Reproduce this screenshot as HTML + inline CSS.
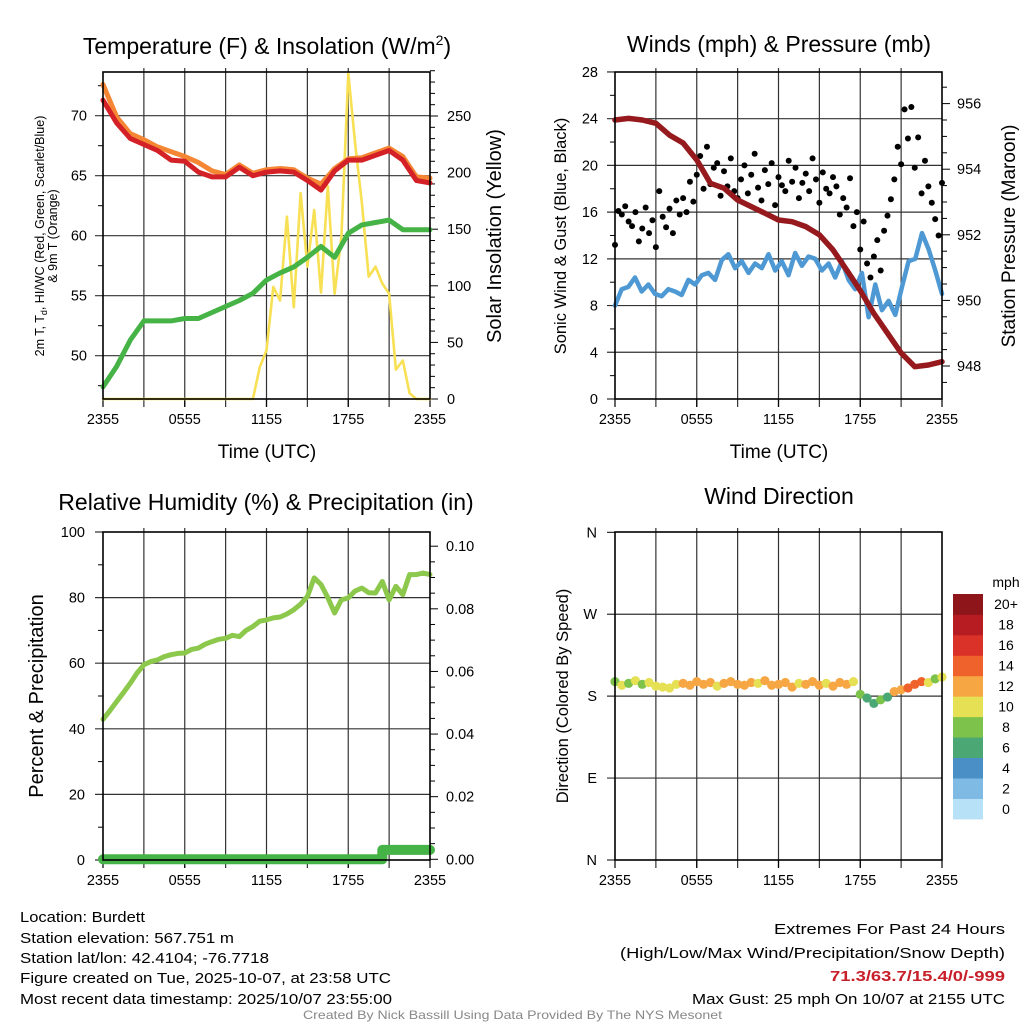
<!DOCTYPE html>
<html><head><meta charset="utf-8"><style>
html,body{margin:0;padding:0;background:#fff;}
svg{display:block;font-family:"Liberation Sans",Arial,sans-serif;}
</style></head><body>
<svg id="fig" xmlns="http://www.w3.org/2000/svg" width="1024" height="1024" viewBox="0 0 1024 1024">
<rect x="0" y="0" width="1024" height="1024" fill="#fff"/>
<g id="layer"></g>
<g font-size="23" text-anchor="middle" fill="#000">
<text x="267" y="54">Temperature (F) &amp; Insolation (W/m<tspan font-size="14" dy="-9">2</tspan><tspan dy="9">)</tspan></text>
<text x="779" y="52">Winds (mph) &amp; Pressure (mb)</text>
<text x="266" y="510">Relative Humidity (%) &amp; Precipitation (in)</text>
<text x="779" y="504">Wind Direction</text>
</g>
<g font-size="19" text-anchor="middle">
<text x="267" y="458">Time (UTC)</text>
<text x="779" y="458">Time (UTC)</text>
<text transform="translate(44,236) rotate(-90)" font-size="12.5">2m T, T<tspan font-size="9" dy="3">d</tspan><tspan dy="-3">, HI/WC (Red, Green, Scarlet/Blue)</tspan></text>
<text transform="translate(57,236) rotate(-90)" font-size="12.5">&amp; 9m T (Orange)</text>
<text transform="translate(501,236) rotate(-90)" font-size="20">Solar Insolation (Yellow)</text>
<text transform="translate(566,236) rotate(-90)" font-size="16.5">Sonic Wind &amp; Gust (Blue, Black)</text>
<text transform="translate(1015,236) rotate(-90)" font-size="19">Station Pressure (Maroon)</text>
<text transform="translate(43,696) rotate(-90)" font-size="20">Percent &amp; Precipitation</text>
<text transform="translate(568,696) rotate(-90)" font-size="16.5">Direction (Colored By Speed)</text>
</g>
<g font-size="15" fill="#000">
<text x="20" y="922" textLength="125" lengthAdjust="spacingAndGlyphs">Location: Burdett</text>
<text x="20" y="943" textLength="214" lengthAdjust="spacingAndGlyphs">Station elevation: 567.751 m</text>
<text x="20" y="963" textLength="249" lengthAdjust="spacingAndGlyphs">Station lat/lon: 42.4104; -76.7718</text>
<text x="20" y="983" textLength="371" lengthAdjust="spacingAndGlyphs">Figure created on Tue, 2025-10-07, at 23:58 UTC</text>
<text x="20" y="1004" textLength="372" lengthAdjust="spacingAndGlyphs">Most recent data timestamp: 2025/10/07 23:55:00</text>
</g>
<g font-size="15" fill="#000">
<text x="774" y="934" textLength="231" lengthAdjust="spacingAndGlyphs">Extremes For Past 24 Hours</text>
<text x="620" y="958" textLength="385" lengthAdjust="spacingAndGlyphs">(High/Low/Max Wind/Precipitation/Snow Depth)</text>
<text x="830" y="981" textLength="175" lengthAdjust="spacingAndGlyphs" fill="#c8202a" font-weight="bold">71.3/63.7/15.4/0/-999</text>
<text x="692" y="1004" textLength="313" lengthAdjust="spacingAndGlyphs">Max Gust: 25 mph On 10/07 at 2155 UTC</text>
</g>
<text x="303" y="1019" font-size="12" fill="#888" textLength="419" lengthAdjust="spacingAndGlyphs">Created By Nick Bassill Using Data Provided By The NYS Mesonet</text>
</svg>
<script>
// ---- data (hours 0..24, evenly spaced) ----
const timeLabels = ["2355","0555","1155","1755","2355"];
const tempRed = [71.3,69.4,68.1,67.6,67.1,66.3,66.2,65.3,64.9,64.9,65.7,65.0,65.3,65.4,65.3,64.6,63.8,65.4,66.3,66.3,66.7,67.1,66.3,64.6,64.4];
const tempOrange = [72.6,69.9,68.5,68.0,67.4,67.0,66.6,66.1,65.4,65.1,65.9,65.2,65.5,65.6,65.5,64.8,64.3,65.6,66.4,66.5,66.9,67.3,66.6,64.9,64.8];
const dewGreen = [47.4,49.1,51.3,52.9,52.9,52.9,53.1,53.1,53.6,54.1,54.6,55.2,56.3,56.9,57.4,58.2,59.1,58.2,60.2,60.9,61.1,61.3,60.5,60.5,60.5];
const insolation = [0,0,0,0,0,0,0,0,0,0,0,0,0,0,0,0,0,0,0,0,0,0,0,28,43,99,87,161,81,182,117,167,94,188,93,143,288,226,173,108,117,102,93,26,34,5,0,0,0];
const tempTicks = [50,55,60,65,70];
const insTicks = [0,50,100,150,200,250];
const pressure = [955.5,955.55,955.5,955.4,955.04,954.8,954.28,953.57,953.42,953.06,952.86,952.66,952.45,952.4,952.25,952.0,951.54,950.93,950.3,949.6,949.0,948.4,947.98,948.03,948.13];
const sonic = [8.0,9.4,9.6,10.4,9.2,9.8,9.0,8.8,9.4,9.2,8.9,10.2,9.8,10.6,10.8,10.2,11.9,12.4,11.2,11.8,10.8,11.6,11.2,12.4,11.0,11.8,10.6,12.5,11.4,12.2,12.0,11.0,11.6,10.4,11.8,10.2,9.4,10.8,7.0,9.8,7.6,8.4,7.2,9.6,11.8,12.0,14.2,12.8,11.0,9.0];
const gust = [13.2,16.1,15.8,16.5,15.2,14.8,16.0,13.5,14.6,16.4,14.2,15.3,13.0,17.8,15.6,14.7,16.3,14.2,17.0,15.8,17.2,16.0,18.6,16.9,19.2,20.8,18.0,21.6,18.4,19.8,20.2,17.4,19.5,18.2,20.6,17.8,17.2,18.8,20.0,17.6,19.2,21.0,18.1,17.0,19.6,18.4,20.2,16.6,19.0,18.3,17.8,20.4,18.6,19.8,17.2,18.5,19.3,17.8,20.6,18.8,16.8,19.4,18.0,17.6,19.0,18.2,15.8,17.2,16.4,18.9,14.8,16.0,12.8,15.2,11.6,10.4,12.2,13.6,11.0,14.4,15.7,17.1,18.8,21.6,20.1,24.8,22.3,25.0,19.8,22.4,17.6,20.4,18.2,16.8,15.4,14.0,18.5];
const windTicks = [0,4,8,12,16,20,24,28];
const presTicks = [948,950,952,954,956];
const rh = [42.9,45.5,48.3,51,53.9,57,59.5,60.5,61,62,62.6,63,63.1,64.2,64.6,65.8,66.6,67.3,67.6,68.5,68.1,70,71.2,72.8,73.2,73.8,74.1,75,76.3,78,80.3,86,84,80,75.3,79.3,79.9,82,82.9,81.5,81.4,84.9,79.3,83.4,80.9,87,87,87.5,87];
const precip = [0,0,0,0,0,0,0,0,0,0,0,0,0,0,0,0,0,0,0,0,0,0,0,0,0,0,0,0,0,0,0,0,0,0,0,0,0,0,0,0,0,0.003,0.003,0.003,0.003,0.003,0.003,0.003,0.003];
const rhTicks = [0,20,40,60,80,100];
const precipTicks = ["0.00","0.02","0.04","0.06","0.08","0.10"];
const windDir = [196,192,194,197,193,195,191,190,189,193,194,192,196,193,195,191,194,196,193,192,195,194,197,192,193,195,190,194,193,196,192,194,191,195,193,196,182,178,172,176,179,185,187,189,193,196,195,199,201];
const windSpd = [9.5,10.5,8.5,10.8,9.2,10.4,11.0,10.6,11.2,10.4,12.5,12.8,12.2,13.0,12.4,10.8,12.6,13.2,12.1,12.9,12.3,11.5,12.7,13.1,12.2,12.6,12.9,11.6,12.4,13.0,12.3,11.8,12.7,12.2,12.5,10.6,8.5,6.8,7.5,8.2,6.5,12.4,13.0,14.5,14.8,15.2,10.2,8.6,11.0];
const dirTicks = [0,90,180,270,360];
const dirLabels = ["N","E","S","W","N"];
const speedLabels = ["0","2","4","6","8","10","12","14","16","18","20+"];
const speedColors = ["#b7e1f7","#7fbae4","#4a8fc6","#4ba774","#7dc24a","#e6e055","#f6a743","#f0622b","#da3128","#b81c23","#8e1519"];

const NS = "http://www.w3.org/2000/svg";
const layer = document.getElementById('layer');
function mk(tag, attrs, parent){
  const e = document.createElementNS(NS, tag);
  for (const k in attrs) e.setAttribute(k, attrs[k]);
  (parent||layer).appendChild(e);
  return e;
}
function tx(n, i, x0, x1){ return x0 + (i/(n-1))*24*(x1-x0)/24; }

function frame(name, x0, y0, x1, y1){
  const g = mk('g', {});
  
  
  for (let h=3; h<24; h+=3){
    const x = x0 + h*(x1-x0)/24;
    const l = mk('line', {x1:x, x2:x, y1:y0-4, y2:y1+8, stroke:'#333', 'stroke-width':1.2}, g);
    
    
  }
  for (let k=0;k<5;k++){
    const x = x0 + k*6*(x1-x0)/24;
    const l = mk('line', {x1:x, x2:x, y1:y1, y2:y1+8, stroke:'#000', 'stroke-width':1.2}, g);
    
    
    const t = mk('text', {x:x, y:y1+25, 'font-size':14.5, 'text-anchor':'middle'}, g);
    t.textContent = timeLabels[k];
    
    
  }
  return g;
}
function border(name, x0, y0, x1, y1){
  const r = mk('rect', {x:x0, y:y0, width:x1-x0, height:y1-y0, fill:'none', stroke:'#000', 'stroke-width':1.6});
  
  
}
function hgrid(g, y, x0, x1){
  const l = mk('line', {x1:x0-8, x2:x1, y1:y, y2:y, stroke:'#333', 'stroke-width':1.2}, g);
  
  
}
function tick(g, x, y, len, name){
  const l = mk('line', {x1:x, x2:x+len, y1:y, y2:y, stroke:'#000', 'stroke-width':1}, g);
  
  
}
function label(g, x, y, s, anchor, name){
  const t = mk('text', {x:x, y:y+5, 'font-size':14.5, 'text-anchor':anchor}, g);
  t.textContent = s;
  
  
}
function line(pts, color, w, name){
  const p = mk('polyline', {points:pts.map(p=>p[0].toFixed(1)+','+p[1].toFixed(1)).join(' '), fill:'none', stroke:color, 'stroke-width':w, 'stroke-linejoin':'round', 'stroke-linecap':'round'});
  
  
  return p;
}

// ---------- Panel 1: temperature ----------
(function(){
  const x0=103,x1=430,y0=72,y1=399;
  const yT = v => 115.7 + (70 - v)*12;
  const yW = v => 399 - v*1.132;
  const g = frame('temperature-panel', x0,y0,x1,y1);
  tempTicks.forEach(v=>{ hgrid(g, yT(v), x0, x1); label(g, 87, yT(v), String(v), 'end', 'temp-y-tick-label'); });
  for (let v=47.5; v<74; v+=5){ tick(g, x0-5, yT(v), 5, 'temp-minor-tick'); }
  for (let v=0; v<=290; v+=10){ tick(g, x1, yW(v), v%50===0?8:5, 'insolation-tick'); }
  insTicks.forEach(v=>label(g, 447, yW(v), String(v), 'start', 'insolation-tick-label'));
  line(insolation.map((v,i)=>[tx(insolation.length,i,x0,x1), yW(v)]), '#f8e054', 2.6, 'insolation-line');
  line(dewGreen.map((v,i)=>[tx(dewGreen.length,i,x0,x1), yT(v)]), '#46b347', 5, 'dewpoint-line');
  line(tempOrange.map((v,i)=>[tx(tempOrange.length,i,x0,x1), yT(v)]), '#f58634', 5, 'temp-9m-line');
  line(tempRed.map((v,i)=>[tx(tempRed.length,i,x0,x1), yT(v)]), '#d42027', 5, 'temp-2m-line');
  border('temperature-plot-frame', x0,y0,x1,y1);
})();

// ---------- Panel 2: winds ----------
(function(){
  const x0=615,x1=942,y0=72,y1=399;
  const yV = v => 399 - v*11.68;
  const yP = v => 366 - (v-948)*32.8;
  const g = frame('winds-panel', x0,y0,x1,y1);
  windTicks.forEach(v=>{ if(v>0&&v<28) hgrid(g, yV(v), x0, x1); else tick(g, x0-8, yV(v), 8, 'wind-major-tick'); label(g, 598, yV(v), String(v), 'end', 'wind-y-tick-label'); });
  for (let v=2; v<28; v+=4){ tick(g, x0-5, yV(v), 5, 'wind-minor-tick'); }
  for (let v=947.5; v<=956.5; v+=0.5){ const y=yP(v); if(y>=y0&&y<=y1) tick(g, x1, y, (Math.abs(v%2)<0.01)?8:5, 'pressure-tick'); }
  presTicks.forEach(v=>label(g, 957, yP(v), String(v), 'start', 'pressure-tick-label'));
  line(sonic.map((v,i)=>[tx(sonic.length,i,x0,x1), yV(v)]), '#4e99d3', 4.5, 'sonic-wind-line');
  const dg = mk('g', {});
  
  
  gust.forEach((v,i)=>{
    const c = mk('circle', {cx:tx(gust.length,i,x0,x1), cy:yV(v), r:3, fill:'#000'}, dg);
    
    
  });
  line(pressure.map((v,i)=>[tx(pressure.length,i,x0,x1), yP(v)]), '#961a1d', 5.5, 'pressure-line');
  border('winds-plot-frame', x0,y0,x1,y1);
})();

// ---------- Panel 3: humidity ----------
(function(){
  const x0=103,x1=430,y0=532,y1=860;
  const yR = v => 860 - v*3.28;
  const yQ = v => 859.3 - v*3131;
  const g = frame('humidity-panel', x0,y0,x1,y1);
  rhTicks.forEach(v=>{ if(v>0&&v<100) hgrid(g, yR(v), x0, x1); else tick(g, x0-8, yR(v), 8, 'rh-major-tick'); label(g, 85, yR(v), String(v), 'end', 'rh-y-tick-label'); });
  for (let v=10; v<100; v+=20){ tick(g, x0-5, yR(v), 5, 'rh-minor-tick'); }
  for (let k=0; k<=20; k++){ const v=k*0.005; tick(g, x1, yQ(v), k%4===0?8:5, 'precip-tick'); }
  precipTicks.forEach(s=>label(g, 446, yQ(parseFloat(s)), s, 'start', 'precip-tick-label'));
  line(rh.map((v,i)=>[tx(rh.length,i,x0,x1), yR(v)]), '#8cc84b', 5, 'humidity-line');
  const pts=[];
  precip.forEach((v,i)=>{ const x=tx(precip.length,i,x0,x1); if(i>0&&v!==precip[i-1]) pts.push([x, yQ(precip[i-1])]); pts.push([x, yQ(v)]); });
  line(pts, '#46b347', 10, 'precip-line');
  border('humidity-plot-frame', x0,y0,x1,y1);
})();

// ---------- Panel 4: wind direction ----------
(function(){
  const x0=615,x1=942,y0=532,y1=860;
  const yD = v => 860 - v*327.7/360;
  const g = frame('direction-panel', x0,y0,x1,y1);
  dirTicks.forEach((v,i)=>{ if(v>0&&v<360) hgrid(g, yD(v), x0, x1); else tick(g, x0-8, yD(v), 8, 'dir-major-tick'); label(g, 597, yD(v), dirLabels[i], 'end', 'dir-y-tick-label'); });
  const dg = mk('g', {});
  
  
  windDir.forEach((v,i)=>{
    const b = Math.min(10, Math.floor(windSpd[i]/2));
    const c = mk('circle', {cx:tx(windDir.length,i,x0,x1), cy:yD(v), r:4.6, fill:speedColors[b]}, dg);
    
    
  });
  border('direction-plot-frame', x0,y0,x1,y1);
  // colorbar
  const cb = mk('g', {});
  
  
  const t = mk('text', {x:1006, y:587, 'font-size':14, 'text-anchor':'middle'}, cb);
  t.textContent = 'mph';
  
  
  const bh = (819-594)/11;
  speedLabels.forEach((s,i)=>{
    const y = 819 - (i+1)*bh;
    const r = mk('rect', {x:953, y:y, width:30, height:bh+0.4, fill:speedColors[i]}, cb);
    
    
    const l = mk('text', {x:1006, y:y+bh/2+5, 'font-size':14, 'text-anchor':'middle'}, cb);
    l.textContent = s;
    
    
  });
})();
</script>
</body></html>
